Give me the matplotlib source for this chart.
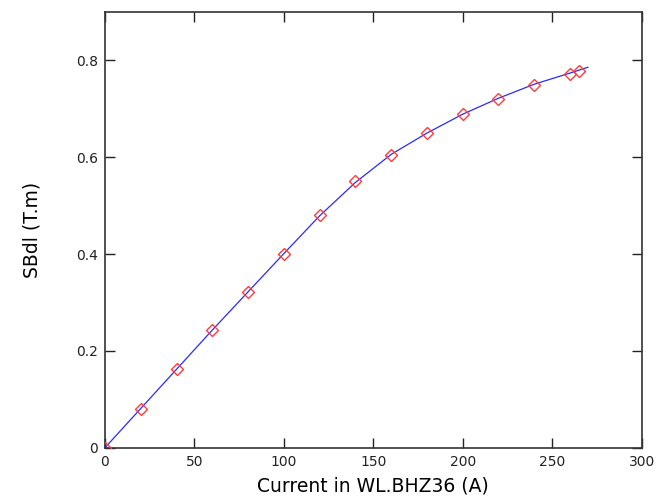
import numpy as np
import matplotlib
matplotlib.use("Agg")
import matplotlib.pyplot as plt

# measured points (red diamonds)
current = [0, 20, 40, 60, 80, 100, 120, 140, 160, 180, 200, 220, 240, 260, 265]
sbdl = [0.0, 0.080, 0.162, 0.244, 0.322, 0.400, 0.480, 0.550, 0.605, 0.651,
        0.690, 0.721, 0.749, 0.772, 0.778]

# fitted curve (blue line), runs slightly past the last point
fit_current = [0, 20, 40, 60, 80, 100, 120, 140, 160, 180, 200, 220, 240, 260, 270]
fit_sbdl = [0.0, 0.081, 0.162, 0.243, 0.322, 0.401, 0.479, 0.548, 0.606, 0.650,
            0.689, 0.722, 0.751, 0.774, 0.786]

x_ticks = [0, 50, 100, 150, 200, 250, 300]
y_ticks = [0, 0.2, 0.4, 0.6, 0.8]
y_tick_labels = ["0", "0.2", "0.4", "0.6", "0.8"]

fig = plt.figure(figsize=(6.56, 4.99), dpi=100)
ax = fig.add_axes([0.160, 0.1028, 0.818, 0.873])

ax.plot(fit_current, fit_sbdl, color="#2a2aff", linewidth=0.9, zorder=2)
ax.plot(current, sbdl, linestyle="none", marker="D", markersize=6.5,
        markerfacecolor="none", markeredgecolor="#ff3c3c", markeredgewidth=1.0, zorder=3)

ax.set_xlim(0, 300)
ax.set_ylim(0, 0.9)
ax.set_xticks(x_ticks)
ax.set_yticks(y_ticks)
ax.set_yticklabels(y_tick_labels)

ax.tick_params(direction="in", length=7, width=1, top=True, right=True,
               labelsize=10, pad=5, colors="#222222")
for s in ax.spines.values():
    s.set_linewidth(1.2)
    s.set_color("#333333")

ax.set_xlabel("Current in WL.BHZ36 (A)", fontsize=13.5, labelpad=6)
ax.set_ylabel("SBdl (T.m)", fontsize=13.5, labelpad=25)

fig.savefig("out.png", dpi=100)
